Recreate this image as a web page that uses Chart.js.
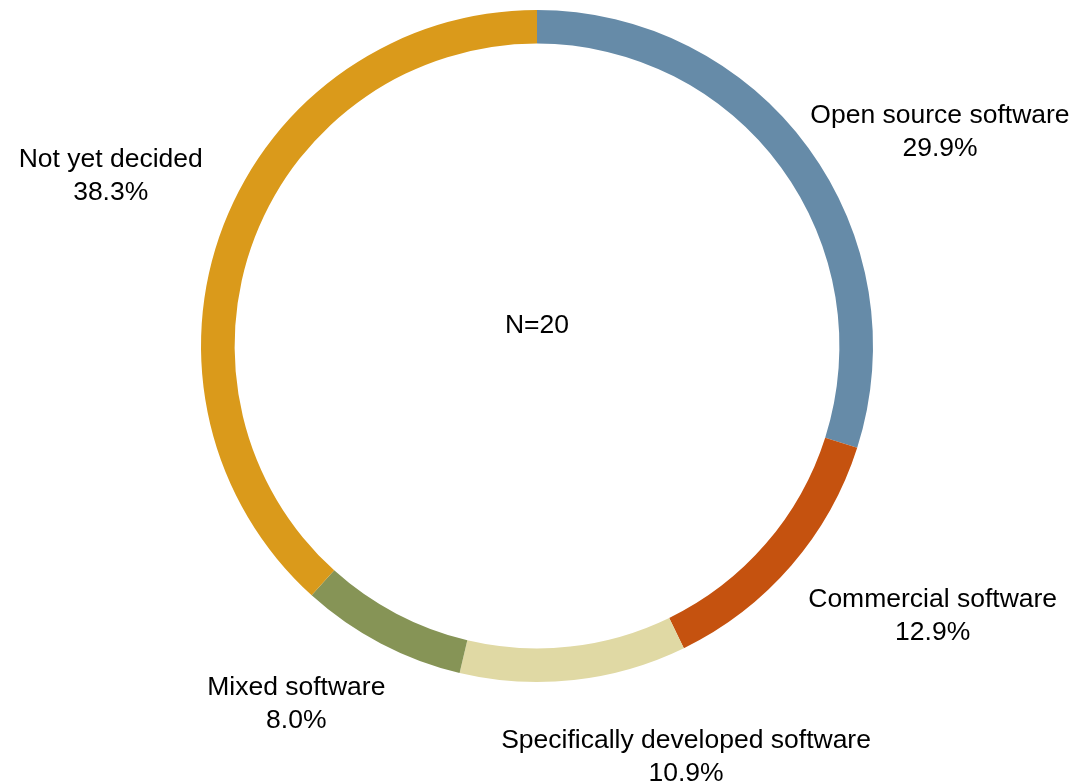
<!DOCTYPE html>
<html>
<head>
<meta charset="utf-8">
<script src="https://cdn.jsdelivr.net/npm/chart.js@4/dist/chart.umd.min.js"></script>
<style>
  body { margin: 0; background: #fff; }
  #wrap { width: 1077px; height: 784px; }
</style>
</head>
<body>
<div id="wrap"><canvas id="softwareChart" width="1077" height="784"></canvas></div>
<script>
// Données
const categories = ["Open source software", "Commercial software", "Specifically developed software", "Mixed software", "Not yet decided"];
const shares = [29.9, 12.9, 10.9, 8.0, 38.3];
const sampleLabel = "N=20";

// Style
const sliceColors = ["#668ba8", "#c5520f", "#e0d9a4", "#869456", "#da9a1b"];
const labelNudge = [[-14, 29], [2, 4], [110, 24], [14, 10], [-2, -9]];
const fontSpec = "26.5px 'Liberation Sans', Arial, sans-serif";
const lineGap = 33;

// Étiquettes à l'extérieur de l'anneau + texte central
const outsideLabels = {
  id: "outsideLabels",
  afterDraw(chart) {
    const ctx = chart.ctx;
    const meta = chart.getDatasetMeta(0);
    ctx.save();
    ctx.font = fontSpec;
    ctx.fillStyle = "#000";
    ctx.textAlign = "center";
    ctx.textBaseline = "middle";
    meta.data.forEach((arc, i) => {
      const p = arc.getProps(["x", "y", "startAngle", "endAngle", "outerRadius"], true);
      const mid = (p.startAngle + p.endAngle) / 2;
      const s = Math.cos(mid); // horizontal part
      const c = -Math.sin(mid); // vertical part (up positive)
      const r = p.outerRadius + 20;
      const ax = p.x + r * s;
      const ay = p.y - r * c;
      const lines = [categories[i], shares[i].toFixed(1) + "%"];
      const w = Math.max(...lines.map(t => ctx.measureText(t).width));
      const h = lineGap * 2;
      let cx = ax, cy = ay;
      if (s > 0.25) cx = ax + w / 2;
      else if (s < -0.25) cx = ax - w / 2;
      if (c > 0.25) cy = ay - h / 2;
      else if (c < -0.25) cy = ay + h / 2;
      cx += labelNudge[i][0];
      cy += labelNudge[i][1];
      ctx.fillText(lines[0], cx, cy - lineGap / 2);
      ctx.fillText(lines[1], cx, cy + lineGap / 2);
    });
    const first = meta.data[0];
    ctx.fillText(sampleLabel, first.x, first.y - 20);
    ctx.restore();
  }
};

const ctx = document.getElementById("softwareChart").getContext("2d");
new Chart(ctx, {
  type: "doughnut",
  data: {
    labels: categories,
    datasets: [
      {
        data: shares,
        backgroundColor: sliceColors,
        borderWidth: 0,
      },
    ],
  },
  options: {
    responsive: false,
    animation: false,
    cutout: "90%",
    layout: {
      padding: { top: 10, bottom: 102, left: 201, right: 204 },
    },
    plugins: {
      legend: { display: false },
      tooltip: { enabled: false },
    },
  },
  plugins: [outsideLabels],
});
</script>
</body>
</html>
